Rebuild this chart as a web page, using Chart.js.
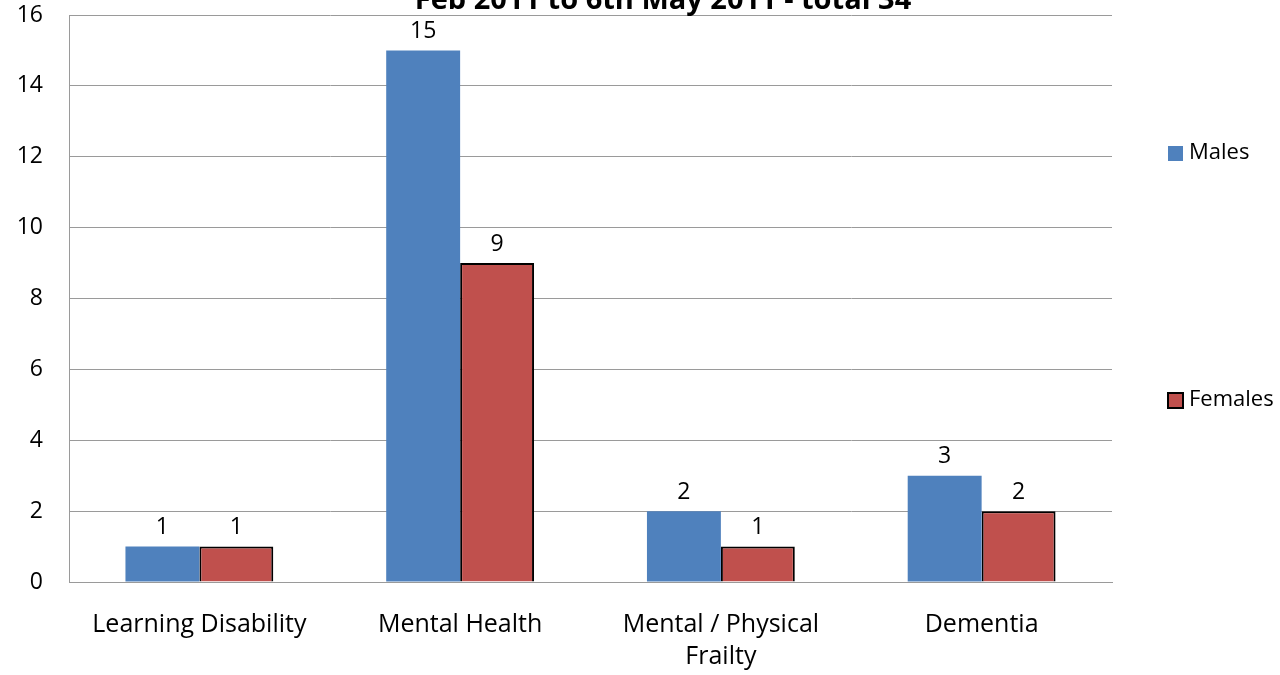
<!DOCTYPE html>
<html>
<head>
<meta charset="utf-8">
<script src="https://cdn.jsdelivr.net/npm/chart.js@4"></script>
<style>
  html, body { margin: 0; padding: 0; background: #fff; }
  #wrap { position: relative; width: 1280px; height: 675px; }
</style>
</head>
<body>
<div id="wrap"><canvas id="chart" width="1280" height="675"></canvas></div>
<script>
// --- DATA ---
const categories = ["Learning Disability", "Mental Health", ["Mental / Physical", "Frailty"], "Dementia"];
const males = [1, 15, 2, 3];
const females = [1, 9, 1, 2];
const seriesNames = ["Males", "Females"];
const titleText = "Feb 2011 to 6th May 2011 - total 34";
const yTicks = [0, 2, 4, 6, 8, 10, 12, 14, 16];

const FONT = "'Open Sans', sans-serif";

// título cortado no topo, como no original
const titlePlugin = {
  id: "titleCut",
  afterDraw(chart) {
    const ctx = chart.ctx;
    ctx.save();
    ctx.font = "bold 29px " + FONT;
    ctx.fillStyle = "#000";
    ctx.textAlign = "center";
    ctx.textBaseline = "alphabetic";
    ctx.fillText(titleText, 663, 9);
    ctx.restore();
  }
};

// rótulos de valor acima das barras
const valuePlugin = {
  id: "values",
  afterDatasetsDraw(chart) {
    const ctx = chart.ctx;
    ctx.save();
    ctx.font = "23px " + FONT;
    ctx.fillStyle = "#000";
    ctx.textAlign = "center";
    ctx.textBaseline = "middle";
    chart.data.datasets.forEach((ds, i) => {
      chart.getDatasetMeta(i).data.forEach((bar, j) => {
        ctx.fillText(String(ds.data[j]), bar.x, bar.y - 19);
      });
    });
    ctx.restore();
  }
};

// legenda à direita
const legendPlugin = {
  id: "sideLegend",
  afterDraw(chart) {
    const ctx = chart.ctx;
    const ys = [153, 400];
    ctx.save();
    ctx.font = "22px " + FONT;
    ctx.textBaseline = "middle";
    chart.data.datasets.forEach((ds, i) => {
      const x = 1168, y = ys[i];
      ctx.fillStyle = ds.backgroundColor;
      ctx.fillRect(x, y - 7, 15, 15);
      if (ds.borderWidth) {
        ctx.strokeStyle = "#000";
        ctx.lineWidth = 2;
        ctx.strokeRect(x, y - 7, 15, 15);
      }
      ctx.fillStyle = "#000";
      ctx.fillText(ds.label, x + 21, y);
    });
    ctx.restore();
  }
};

new Chart(document.getElementById("chart"), {
  type: "bar",
  data: {
    labels: categories,
    datasets: [
      {
        label: seriesNames[0],
        data: males,
        backgroundColor: "#4F81BD",
        borderWidth: 0
      },
      {
        label: seriesNames[1],
        data: females,
        backgroundColor: "#C0504D",
        borderColor: "#000",
        borderWidth: 2
      }
    ]
  },
  options: {
    responsive: false,
    animation: false,
    layout: { padding: { top: 15, right: 168, left: 0, bottom: 0 } },
    datasets: { bar: { barPercentage: 1, categoryPercentage: 0.567 } },
    plugins: {
      legend: { display: false },
      title: { display: false },
      tooltip: { enabled: false }
    },
    scales: {
      y: {
        min: 0,
        max: 16,
        afterFit(scale) {
          scale.width = 69;
          scale.paddingTop = 0;
          scale.paddingBottom = 0;
        },
        afterBuildTicks(scale) { scale.ticks = yTicks.map(v => ({ value: v })); },
        ticks: { color: "#000", font: { size: 23, family: FONT }, padding: 26 },
        grid: { color: "#9a9a9a", lineWidth: 1, drawTicks: false },
        border: { color: "#9a9a9a" }
      },
      x: {
        afterFit(scale) {
          scale.height = 93;
          scale.paddingLeft = 0;
          scale.paddingRight = 0;
        },
        ticks: { color: "#000", font: { size: 25, family: FONT, lineHeight: 1.28 }, padding: 27, maxRotation: 0 },
        grid: { display: false, drawTicks: false },
        border: { color: "#9a9a9a" }
      }
    }
  },
  plugins: [titlePlugin, valuePlugin, legendPlugin]
});
</script>
</body>
</html>
